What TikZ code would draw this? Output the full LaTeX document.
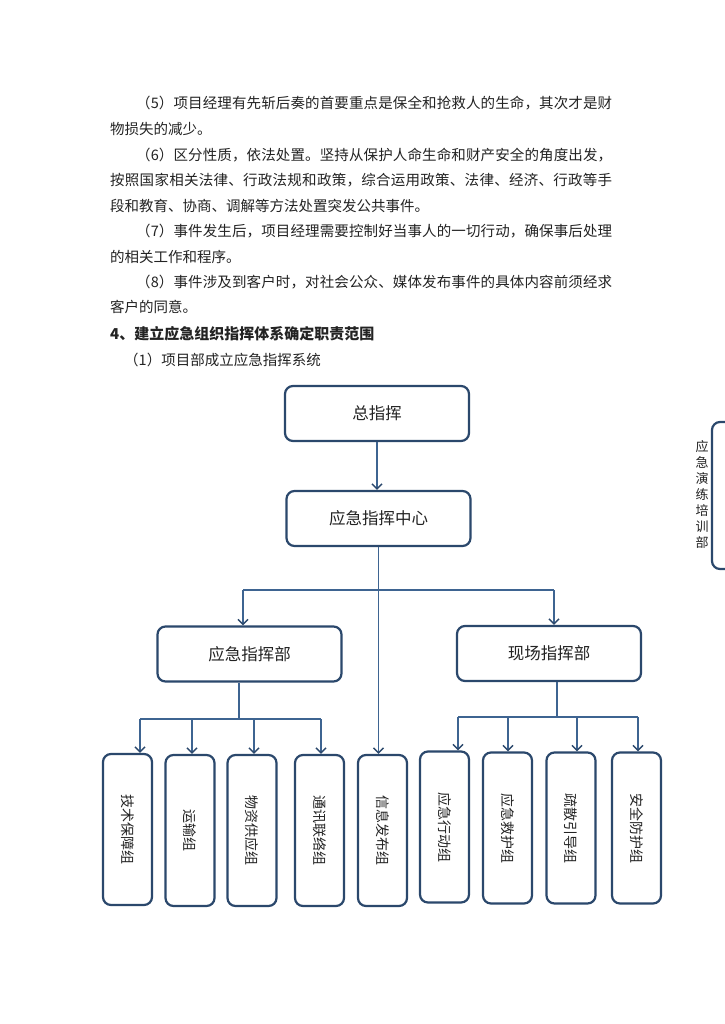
\documentclass[tikz,border=0pt]{standalone}
\usepackage{fontspec}
\usepackage{graphicx}
\setmainfont{Noto Sans CJK SC}
\usetikzlibrary{arrows.meta}
\definecolor{boxc}{RGB}{43,72,108}
\definecolor{linec}{RGB}{62,100,145}
\definecolor{txt}{RGB}{35,35,35}
\ExplSyntaxOn
\NewDocumentCommand\jline{mm}{\hbox~to~#1{\tl_map_inline:nn {#2}{##1\hskip~0pt~plus~1fil}\unskip}}
\ExplSyntaxOff
\begin{document}
\begin{tikzpicture}[x=1pt,y=-1pt,
  box/.style={draw=boxc, line width=2.2pt, rounded corners=8pt, fill=white, inner sep=0pt, text=txt},
  bigbox/.style={box, minimum width=184pt, minimum height=55pt, font=\fontsize{16.5}{18}\selectfont},
  smallbox/.style={box, minimum width=49pt, minimum height=151pt, font=\fontsize{14}{16}\selectfont},
  conn/.style={draw=linec, line width=1.1pt},
  arr/.style={conn, -{Straight Barb[length=5pt,width=10pt,line width=1.5pt,color=boxc]}},
  body/.style={anchor=west, inner sep=0pt, text=txt, font=\fontsize{14.5}{17}\selectfont},
]
\useasboundingbox[fill=white] (0,0) rectangle (724,1024);

% body text
\node[body] (t1) at (136,103) {\jline{476pt}{（5）项目经理有先斩后奏的首要重点是保全和抢救人的生命，其次才是财}};
\node[body] (t2) at (110,129) {物损失的减少。};
\node[body] (t3) at (136,155) {\jline{476pt}{（6）区分性质，依法处置。坚持从保护人命生命和财产安全的角度出发，}};
\node[body] (t4) at (110,180) {\jline{502pt}{按照国家相关法律、行政法规和政策，综合运用政策、法律、经济、行政等手}};
\node[body] (t5) at (110,206) {段和教育、协商、调解等方法处置突发公共事件。};
\node[body] (t6) at (136,231) {\jline{476pt}{（7）事件发生后，项目经理需要控制好当事人的一切行动，确保事后处理}};
\node[body] (t7) at (110,257) {的相关工作和程序。};
\node[body] (t8) at (136,282) {\jline{476pt}{（8）事件涉及到客户时，对社会公众、媒体发布事件的具体内容前须经求}};
\node[body] (t9) at (110,307) {客户的同意。};
\node[body, font=\fontsize{15}{17}\selectfont\bfseries] (h1t) at (110,334) {4、建立应急组织指挥体系确定职责范围};
\node[body] (s1t) at (124,360) {（1）项目部成立应急指挥系统};

% top boxes
\node[bigbox] (zong) at (377,413.5) {总指挥};
\node[bigbox] (zx) at (378.5,518.5) {应急指挥中心};
\node[bigbox] (yjb) at (249.5,654) {应急指挥部};
\node[bigbox] (xcb) at (549,653.5) {现场指挥部};

% bottom boxes
\node[smallbox] (js) at (127.5,829.5) {\rotatebox{-90}{技术保障组}};
\node[smallbox] (ys) at (190,830.5) {\rotatebox{-90}{运输组}};
\node[smallbox] (wz) at (252,830.5) {\rotatebox{-90}{物资供应组}};
\node[smallbox] (tx) at (319.5,830.5) {\rotatebox{-90}{通讯联络组}};
\node[smallbox] (xx) at (382.5,830.5) {\rotatebox{-90}{信息发布组}};
\node[smallbox] (xd) at (444.5,827) {\rotatebox{-90}{应急行动组}};
\node[smallbox] (jh) at (507.5,828) {\rotatebox{-90}{应急救护组}};
\node[smallbox] (sd) at (571,828) {\rotatebox{-90}{疏散引导组}};
\node[smallbox] (aq) at (636.5,828) {\rotatebox{-90}{安全防护组}};

% side element
\draw[boxc, line width=2.2pt, rounded corners=8pt] (712,422) rectangle (752,569);
\node[inner sep=0pt, align=center, text=txt, font=\fontsize{13}{16}\selectfont] (pxb) at (702,494) {应\\急\\演\\练\\培\\训\\部};

% connectors
\draw[arr] (zong.south) -- (zong.south |- zx.north);
\draw[arr] (zx.south) -- (zx.south |- xx.north);
\coordinate (ha) at (243,590);
\coordinate (hb) at (554,590);
\draw[conn] (ha) -- (hb);
\draw[arr] (ha) -- (ha |- yjb.north);
\draw[arr] (hb) -- (hb |- xcb.north);

\coordinate (sa) at (239,719);
\draw[conn] (sa |- yjb.south) -- (sa);
\coordinate (la) at (140,719);
\coordinate (lb) at (192,719);
\coordinate (lc) at (254,719);
\coordinate (ld) at (321,719);
\draw[conn] (la) -- (ld);
\draw[arr] (la) -- (la |- js.north);
\draw[arr] (lb) -- (lb |- ys.north);
\draw[arr] (lc) -- (lc |- wz.north);
\draw[arr] (ld) -- (ld |- tx.north);

\coordinate (sb) at (557,717);
\draw[conn] (sb |- xcb.south) -- (sb);
\coordinate (ra) at (458,717);
\coordinate (rb) at (508,717);
\coordinate (rc) at (577,717);
\coordinate (rd) at (638,717);
\draw[conn] (ra) -- (rd);
\draw[arr] (ra) -- (ra |- xd.north);
\draw[arr] (rb) -- (rb |- jh.north);
\draw[arr] (rc) -- (rc |- sd.north);
\draw[arr] (rd) -- (rd |- aq.north);
\end{tikzpicture}
\end{document}
